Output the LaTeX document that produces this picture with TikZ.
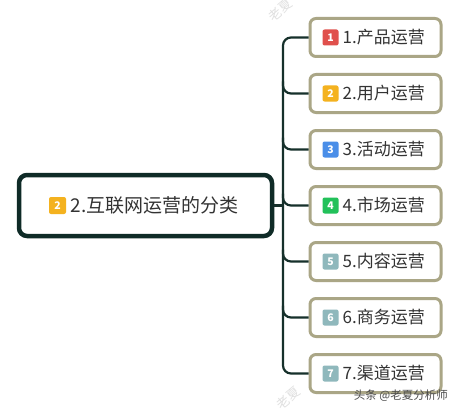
\documentclass[tikz,border=0pt]{standalone}
\usepackage{fontspec}
\setmainfont{Noto Sans CJK SC}
\definecolor{conncol}{HTML}{16302B}
\definecolor{rootcol}{HTML}{0F2B27}
\definecolor{boxcol}{HTML}{AAA686}
\definecolor{txtcol}{HTML}{333333}
\definecolor{bred}{HTML}{E0504C}
\definecolor{borange}{HTML}{F4B21F}
\definecolor{bblue}{HTML}{4A8EE8}
\definecolor{bgreen}{HTML}{22C15A}
\definecolor{bgray}{HTML}{8FB8BC}
\tikzset{
  conn/.style={draw=conncol,line width=2.2pt},
  rootbox/.style={draw=rootcol,line width=4.5pt,fill=white,rounded corners=8pt,minimum width=253pt,minimum height=61pt,inner sep=0pt},
  cbox/.style={draw=boxcol,line width=3pt,fill=white,rounded corners=6pt,minimum width=131pt,minimum height=38pt,inner sep=0pt},
  badge/.style={rounded corners=2pt,text=white,minimum size=16pt,inner sep=0pt,font=\fontsize{10.5}{10.5}\selectfont\bfseries},
  clabel/.style={anchor=west,inner sep=0pt,text=txtcol,font=\fontsize{17}{17}\selectfont},
  rlabel/.style={anchor=west,inner sep=0pt,text=txtcol,font=\fontsize{19}{19}\selectfont},
  wmark/.style={text=black!12,font=\fontsize{13}{13}\selectfont,rotate=40}
}
\begin{document}
\begin{tikzpicture}[x=1pt,y=-1pt]
\useasboundingbox (0,0) rectangle (458,412);
\fill[white] (0,0) rectangle (458,412);
% faint watermarks
\node[wmark] (w1) at (280,10) {老夏};
\node[wmark] (w2) at (288,398) {老夏};
% root
\node[rootbox] (root) at (145.5,205.5) {};
\node[badge,fill=borange,minimum size=17pt] (rb) at (57.5,205.5) {2};
\node[rlabel] (rt) at (70.5,205.5) {2.互联网运营的分类};
% children
\foreach \i/\col/\txt in {1/bred/1.产品运营,2/borange/2.用户运营,3/bblue/3.活动运营,4/bgreen/4.市场运营,5/bgray/5.内容运营,6/bgray/6.商务运营,7/bgray/7.渠道运营}{
  \pgfmathsetmacro\yy{37.5+56*(\i-1)}
  \node[cbox] (c\i) at (375.5,\yy) {};
  \node[badge,fill=\col] (b\i) at (330.5,\yy) {\i};
  \node[clabel] (t\i) at (342.5,\yy) {\txt};
}
% connectors
\coordinate (ttop) at (283,37.5);
\coordinate (tbot) at (283,373.5);
\coordinate (tj) at (283,205.5);
\draw[conn] (root.east) -- (tj);
\draw[conn,rounded corners=8pt] (c1.west) -- (ttop) -- (tbot) -- (c7.west);
\foreach \i in {2,...,6}{
  \pgfmathsetmacro\yy{37.5+56*(\i-1)}
  \coordinate (k\i) at (283,\yy-12);
  \draw[conn,rounded corners=8pt] (k\i) |- (c\i.west);
}
% caption
\node[anchor=east,inner sep=0pt,text=black!70,font=\fontsize{11.5}{11.5}\selectfont] (cap) at (448,396) {头条 @老夏分析师};
\end{tikzpicture}
\end{document}
